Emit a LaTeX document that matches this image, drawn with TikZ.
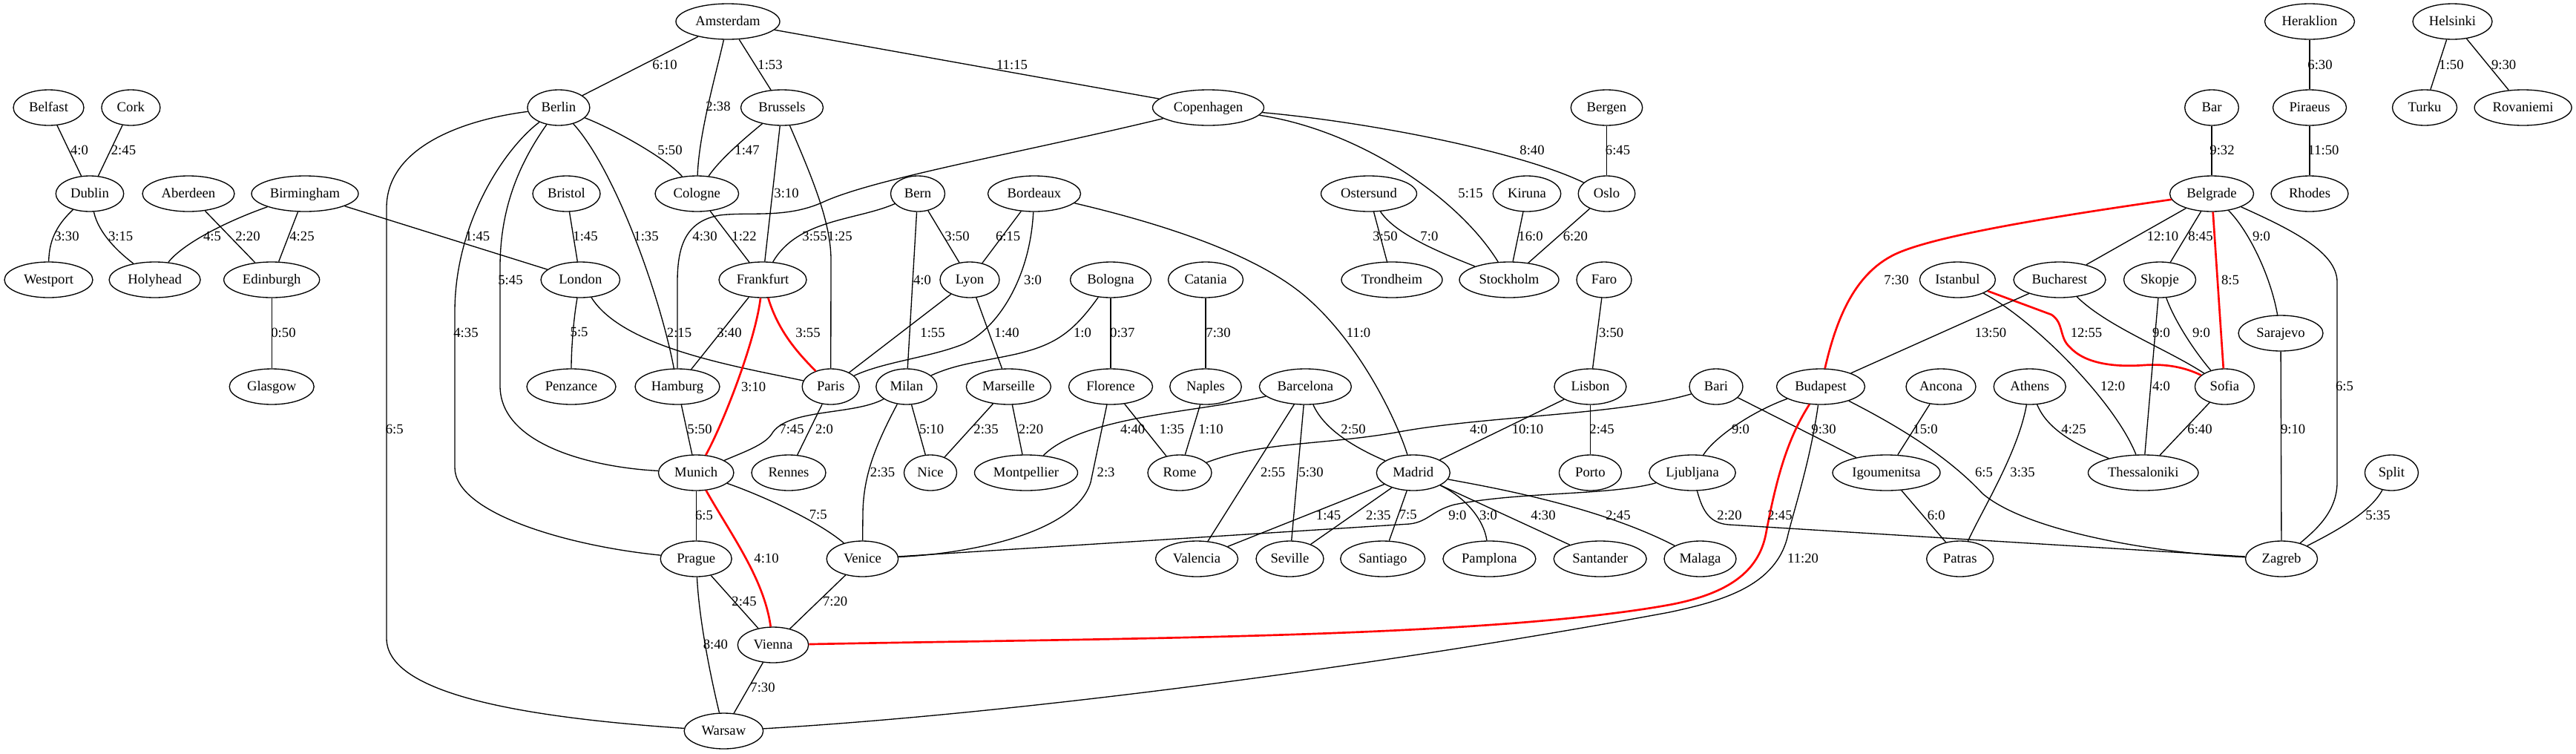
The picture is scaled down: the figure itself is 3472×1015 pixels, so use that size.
\documentclass[tikz,border=0pt]{standalone}
\usepackage{fontspec}
\setmainfont{Liberation Serif}
\usetikzlibrary{shapes.geometric}
\tikzset{
  city/.style={ellipse, draw, line width=1pt, inner sep=0pt, minimum height=36pt,
    text height=10pt, text depth=2.5pt, font=\fontsize{14pt}{16pt}\selectfont},
  wd/.style={minimum width={0.75pt*#1}},
  e/.style={draw, line width=1pt},
  hl/.style={draw=red, line width=2pt},
  lbl/.style={inner sep=0pt, font=\fontsize{14pt}{16pt}\selectfont}
}
\begin{document}
\begin{tikzpicture}[x=0.75pt,y=-0.75pt]
\useasboundingbox (0,0) rectangle (3472,1015);
% ---- nodes ----
\node[city,wd=140] (amsterdam) at (981,29) {Amsterdam};
\node[city,wd=121] (heraklion) at (3113,29) {Heraklion};
\node[city,wd=107] (helsinki) at (3305.5,29) {Helsinki};
\node[city,wd=95] (belfast) at (65.5,145) {Belfast};
\node[city,wd=79] (cork) at (176.4,145) {Cork};
\node[city,wd=84] (berlin) at (752.9,145) {Berlin};
\node[city,wd=111] (brussels) at (1054,145) {Brussels};
\node[city,wd=150] (copenhagen) at (1628.5,145) {Copenhagen};
\node[city,wd=96.5] (bergen) at (2165.5,145) {Bergen};
\node[city,wd=72.6] (bar) at (2981,145) {Bar};
\node[city,wd=99] (piraeus) at (3113,145) {Piraeus};
\node[city,wd=87] (turku) at (3268,145) {Turku};
\node[city,wd=131] (rovaniemi) at (3400.6,145) {Rovaniemi};
\node[city,wd=91.5] (dublin) at (121,261) {Dublin};
\node[city,wd=124] (aberdeen) at (254,261) {Aberdeen};
\node[city,wd=144] (birmingham) at (411,261) {Birmingham};
\node[city,wd=91] (bristol) at (763.5,261) {Bristol};
\node[city,wd=112.6] (cologne) at (939.3,261) {Cologne};
\node[city,wd=73] (bern) at (1237,261) {Bern};
\node[city,wd=125] (bordeaux) at (1394,261) {Bordeaux};
\node[city,wd=129] (ostersund) at (1845,261) {Ostersund};
\node[city,wd=91.5] (kiruna) at (2058,261) {Kiruna};
\node[city,wd=76.6] (oslo) at (2165.5,261) {Oslo};
\node[city,wd=113] (belgrade) at (2981,261) {Belgrade};
\node[city,wd=104] (rhodes) at (3113,261) {Rhodes};
\node[city,wd=119] (westport) at (65.5,377) {Westport};
\node[city,wd=123] (holyhead) at (208.6,377) {Holyhead};
\node[city,wd=129] (edinburgh) at (366.2,377) {Edinburgh};
\node[city,wd=106.5] (london) at (782.3,377) {London};
\node[city,wd=118] (frankfurt) at (1028,377) {Frankfurt};
\node[city,wd=80] (lyon) at (1307,377) {Lyon};
\node[city,wd=109] (bologna) at (1497,377) {Bologna};
\node[city,wd=101] (catania) at (1625,377) {Catania};
\node[city,wd=136] (trondheim) at (1876,377) {Trondheim};
\node[city,wd=134] (stockholm) at (2034,377) {Stockholm};
\node[city,wd=74] (faro) at (2162,377) {Faro};
\node[city,wd=102] (istanbul) at (2638.4,377) {Istanbul};
\node[city,wd=124] (bucharest) at (2776,377) {Bucharest};
\node[city,wd=97] (skopje) at (2911,377) {Skopje};
\node[city,wd=114] (sarajevo) at (3074,449) {Sarajevo};
\node[city,wd=114] (glasgow) at (366.2,521) {Glasgow};
\node[city,wd=120] (penzance) at (770,521) {Penzance};
\node[city,wd=114] (hamburg) at (913,521) {Hamburg};
\node[city,wd=77] (paris) at (1119.7,521) {Paris};
\node[city,wd=82] (milan) at (1221.8,521) {Milan};
\node[city,wd=114] (marseille) at (1359.4,521) {Marseille};
\node[city,wd=113] (florence) at (1497,521) {Florence};
\node[city,wd=96.5] (naples) at (1625,521) {Naples};
\node[city,wd=124] (barcelona) at (1759.4,521) {Barcelona};
\node[city,wd=97] (lisbon) at (2143.4,521) {Lisbon};
\node[city,wd=72] (bari) at (2313,521) {Bari};
\node[city,wd=119] (budapest) at (2454,521) {Budapest};
\node[city,wd=94] (ancona) at (2616,521) {Ancona};
\node[city,wd=97] (athens) at (2735.7,521) {Athens};
\node[city,wd=80] (sofia) at (2998.4,521) {Sofia};
\node[city,wd=101.5] (munich) at (938.2,637) {Munich};
\node[city,wd=100] (rennes) at (1063,637) {Rennes};
\node[city,wd=71] (nice) at (1254,637) {Nice};
\node[city,wd=139] (montpellier) at (1383,637) {Montpellier};
\node[city,wd=86] (rome) at (1590,637) {Rome};
\node[city,wd=99] (madrid) at (1904.8,637) {Madrid};
\node[city,wd=84] (porto) at (2143.4,637) {Porto};
\node[city,wd=116.5] (ljubljana) at (2281,637) {Ljubljana};
\node[city,wd=145] (igoumenitsa) at (2542.5,637) {Igoumenitsa};
\node[city,wd=148.5] (thessaloniki) at (2888.7,637) {Thessaloniki};
\node[city,wd=72] (split) at (3223.4,637) {Split};
\node[city,wd=96] (prague) at (938.2,753) {Prague};
\node[city,wd=96.5] (venice) at (1162.4,753) {Venice};
\node[city,wd=111] (valencia) at (1613,753) {Valencia};
\node[city,wd=91] (seville) at (1738.5,753) {Seville};
\node[city,wd=114] (santiago) at (1863.7,753) {Santiago};
\node[city,wd=125] (pamplona) at (2007.4,753) {Pamplona};
\node[city,wd=125] (santander) at (2156.7,753) {Santander};
\node[city,wd=97] (malaga) at (2291.5,753) {Malaga};
\node[city,wd=90] (patras) at (2641.7,753) {Patras};
\node[city,wd=97] (zagreb) at (3075,753) {Zagreb};
\node[city,wd=95.4] (vienna) at (1042,869) {Vienna};
\node[city,wd=106.5] (warsaw) at (975.4,985) {Warsaw};
% ---- edges ----
\draw[e] (belfast) -- (dublin);
\draw[e] (cork) -- (dublin);
\draw[e] (dublin) .. controls (80,300) and (66,320) .. (westport);
\draw[e] (dublin) .. controls (133,315) and (160,340) .. (holyhead);
\draw[e] (birmingham) .. controls (300,300) and (245,330) .. (holyhead);
\draw[e] (aberdeen) -- (edinburgh);
\draw[e] (birmingham) -- (edinburgh);
\draw[e] (birmingham) -- (london);
\draw[e] (bristol) -- (london);
\draw[e] (edinburgh) -- (glasgow);
\draw[e] (london) .. controls (773,430) and (770,470) .. (penzance);
\draw[e] (london) .. controls (840,470) and (1000,495) .. (paris);
\draw[e] (berlin) .. controls (830,230) and (890,400) .. (hamburg);
\draw[e] (copenhagen) .. controls (1380,205) and (1180,240) .. (1110,272) .. controls (1060,295) and (1010,285) .. (970,290) .. controls (925,298) and (913,330) .. (913,380) -- (hamburg);
\draw[e] (amsterdam) -- (berlin);
\draw[e] (amsterdam) .. controls (965,100) and (942,180) .. (cologne);
\draw[e] (amsterdam) -- (brussels);
\draw[e] (amsterdam) -- (copenhagen);
\draw[e] (berlin) .. controls (830,175) and (900,215) .. (cologne);
\draw[e] (brussels) .. controls (1005,185) and (970,215) .. (cologne);
\draw[e] (cologne) -- (frankfurt);
\draw[e] (brussels) -- (frankfurt);
\draw[e] (brussels) .. controls (1095,240) and (1120,300) .. (1120,350) -- (paris);
\draw[e] (bern) .. controls (1155,297) and (1075,295) .. (frankfurt);
\draw[e] (bern) -- (lyon);
\draw[e] (bern) -- (milan);
\draw[e] (bordeaux) -- (lyon);
\draw[e] (bordeaux) .. controls (1388,380) and (1340,448) .. (1295,465) .. controls (1250,482) and (1190,488) .. (paris);
\draw[e] (bordeaux) .. controls (1560,300) and (1690,340) .. (1760,400) .. controls (1830,460) and (1880,560) .. (madrid);
\draw[e] (copenhagen) .. controls (1850,165) and (2050,205) .. (oslo);
\draw[e] (copenhagen) .. controls (1830,175) and (1965,265) .. (stockholm);
\draw[e] (bergen) -- (oslo);
\draw[e] (ostersund) -- (trondheim);
\draw[e] (ostersund) .. controls (1880,315) and (1940,340) .. (stockholm);
\draw[e] (kiruna) -- (stockholm);
\draw[e] (oslo) -- (stockholm);
\draw[e] (heraklion) -- (piraeus);
\draw[e] (piraeus) -- (rhodes);
\draw[e] (helsinki) -- (turku);
\draw[e] (helsinki) -- (rovaniemi);
\draw[e] (bar) -- (belgrade);
\draw[hl] (belgrade) .. controls (2780,290) and (2620,315) .. (2560,340) .. controls (2500,365) and (2475,430) .. (budapest);
\draw[e] (belgrade) -- (bucharest);
\draw[e] (belgrade) -- (skopje);
\draw[hl] (belgrade) -- (sofia);
\draw[e] (belgrade) .. controls (3030,310) and (3060,370) .. (sarajevo);
\draw[e] (belgrade) .. controls (3090,310) and (3150,340) .. (3150,380) -- (3150,650) .. controls (3150,690) and (3120,715) .. (zagreb);
\draw[hl] (istanbul) -- (2765,424) .. controls (2782,435) and (2775,455) .. (2790,468) .. controls (2810,490) and (2850,495) .. (2890,492) .. controls (2920,490) and (2945,495) .. (sofia);
\draw[e] (istanbul) .. controls (2740,430) and (2850,540) .. (thessaloniki);
\draw[e] (bucharest) -- (budapest);
\draw[e] (bucharest) .. controls (2840,440) and (2920,470) .. (sofia);
\draw[e] (skopje) -- (thessaloniki);
\draw[e] (skopje) .. controls (2930,430) and (2955,470) .. (sofia);
\draw[e] (sofia) -- (thessaloniki);
\draw[e] (athens) .. controls (2760,580) and (2800,600) .. (thessaloniki);
\draw[e] (athens) .. controls (2720,610) and (2670,690) .. (patras);
\draw[e] (sarajevo) -- (zagreb);
\draw[e] (split) .. controls (3195,690) and (3150,715) .. (zagreb);
\draw[e] (ancona) -- (igoumenitsa);
\draw[e] (budapest) .. controls (2570,580) and (2630,620) .. (2672,665) .. controls (2730,715) and (2900,745) .. (zagreb);
\draw[e] (bari) .. controls (2180,560) and (2000,560) .. (1880,583) .. controls (1780,600) and (1700,595) .. (rome);
\draw[e] (bari) -- (igoumenitsa);
\draw[e] (lisbon) -- (madrid);
\draw[e] (lisbon) -- (porto);
\draw[e] (faro) -- (lisbon);
\draw[e] (barcelona) .. controls (1785,580) and (1830,605) .. (madrid);
\draw[e] (barcelona) .. controls (1620,555) and (1460,560) .. (montpellier);
\draw[e] (barcelona) -- (valencia);
\draw[e] (barcelona) -- (seville);
\draw[e] (budapest) .. controls (2360,555) and (2310,590) .. (ljubljana);
\draw[hl] (budapest) .. controls (2410,590) and (2395,640) .. (2380,720) .. controls (2370,770) and (2330,800) .. (2250,815) .. controls (2000,860) and (1500,860) .. (vienna);
\draw[e] (budapest) .. controls (2440,620) and (2420,680) .. (2410,720) .. controls (2395,790) and (2320,810) .. (2250,825) .. controls (1900,890) and (1400,960) .. (warsaw);
\draw[e] (ljubljana) .. controls (2295,690) and (2305,705) .. (2330,707) -- (zagreb);
\draw[e] (ljubljana) .. controls (2170,668) and (2050,662) .. (1960,680) .. controls (1930,688) and (1925,703) .. (1900,706) -- (venice);
\draw[e] (madrid) -- (valencia);
\draw[e] (madrid) -- (seville);
\draw[e] (madrid) -- (santiago);
\draw[e] (madrid) .. controls (1975,670) and (2000,700) .. (pamplona);
\draw[e] (madrid) -- (santander);
\draw[e] (madrid) .. controls (2000,655) and (2150,680) .. (malaga);
\draw[e] (florence) -- (1470,650) .. controls (1450,715) and (1320,745) .. (venice);
\draw[e] (florence) -- (rome);
\draw[e] (naples) -- (rome);
\draw[e] (catania) -- (naples);
\draw[e] (bologna) -- (florence);
\draw[e] (bologna) .. controls (1445,450) and (1420,465) .. (1370,477) .. controls (1320,488) and (1290,490) .. (milan);
\draw[e] (lyon) -- (paris);
\draw[e] (lyon) -- (marseille);
\draw[hl] (frankfurt) .. controls (1018,460) and (975,570) .. (munich);
\draw[hl] (frankfurt) .. controls (1050,450) and (1080,480) .. (paris);
\draw[e] (frankfurt) -- (hamburg);
\draw[e] (hamburg) -- (munich);
\draw[e] (milan) .. controls (1150,560) and (1060,550) .. (1040,585) .. controls (1030,600) and (1000,610) .. (munich);
\draw[e] (paris) -- (rennes);
\draw[e] (milan) -- (nice);
\draw[e] (marseille) -- (nice);
\draw[e] (marseille) -- (montpellier);
\draw[e] (milan) .. controls (1180,600) and (1164,640) .. (1163,690) -- (venice);
\draw[e] (munich) -- (prague);
\draw[e] (munich) .. controls (1020,665) and (1100,700) .. (venice);
\draw[hl] (munich) .. controls (985,720) and (1030,780) .. (vienna);
\draw[e] (prague) -- (vienna);
\draw[e] (prague) .. controls (942,830) and (955,900) .. (warsaw);
\draw[e] (venice) -- (vienna);
\draw[e] (vienna) -- (warsaw);
\draw[e] (igoumenitsa) -- (patras);
\draw[e] (berlin) .. controls (620,162) and (521,200) .. (521,280) -- (521,860) .. controls (521,930) and (680,965) .. (warsaw);
\draw[e] (berlin) .. controls (680,200) and (613,300) .. (613,420) -- (613,630) .. controls (613,690) and (760,735) .. (prague);
\draw[e] (berlin) .. controls (700,220) and (674,280) .. (674,360) -- (674,520) .. controls (674,600) and (800,630) .. (munich);
% ---- labels ----
\node[lbl] (l1) at (107,202) {4:0};
\node[lbl] (l2) at (166.5,202) {2:45};
\node[lbl] (l3) at (90,318) {3:30};
\node[lbl] (l4) at (162.6,318) {3:15};
\node[lbl] (l5) at (286,318) {4:5};
\node[lbl] (l6) at (334,318) {2:20};
\node[lbl] (l7) at (407,318) {4:25};
\node[lbl] (l8) at (643.6,318) {1:45};
\node[lbl] (l9) at (789,318) {1:45};
\node[lbl] (l10) at (382,448) {0:50};
\node[lbl] (l11) at (780.6,448) {5:5};
\node[lbl] (l12) at (915.5,448) {2:15};
\node[lbl] (l13) at (871,318) {1:35};
\node[lbl] (l14) at (950,318) {4:30};
\node[lbl] (l15) at (896,87) {6:10};
\node[lbl] (l16) at (968,143) {2:38};
\node[lbl] (l17) at (1038,87) {1:53};
\node[lbl] (l18) at (1364,87) {11:15};
\node[lbl] (l19) at (903,202) {5:50};
\node[lbl] (l20) at (1007,202) {1:47};
\node[lbl] (l21) at (1003,318) {1:22};
\node[lbl] (l22) at (1060,260) {3:10};
\node[lbl] (l23) at (1132,318) {1:25};
\node[lbl] (l24) at (1098,318) {3:55};
\node[lbl] (l25) at (1290,318) {3:50};
\node[lbl] (l26) at (1243,377) {4:0};
\node[lbl] (l27) at (1358.6,318) {6:15};
\node[lbl] (l28) at (1392,377) {3:0};
\node[lbl] (l29) at (1831,448) {11:0};
\node[lbl] (l30) at (2065,202) {8:40};
\node[lbl] (l31) at (1982,260) {5:15};
\node[lbl] (l32) at (2180.5,202) {6:45};
\node[lbl] (l33) at (1867,318) {3:50};
\node[lbl] (l34) at (1926.4,318) {7:0};
\node[lbl] (l35) at (2063,318) {16:0};
\node[lbl] (l36) at (2123.4,318) {6:20};
\node[lbl] (l37) at (3127,87) {6:30};
\node[lbl] (l38) at (3131.6,202) {11:50};
\node[lbl] (l39) at (3304,87) {1:50};
\node[lbl] (l40) at (3374.6,87) {9:30};
\node[lbl] (l41) at (2995,202) {9:32};
\node[lbl] (l42) at (2556,377) {7:30};
\node[lbl] (l43) at (2915,318) {12:10};
\node[lbl] (l44) at (2966,318) {8:45};
\node[lbl] (l45) at (3006,377) {8:5};
\node[lbl] (l46) at (3048,318) {9:0};
\node[lbl] (l47) at (3160,520) {6:5};
\node[lbl] (l48) at (2812,448) {12:55};
\node[lbl] (l49) at (2847.6,520) {12:0};
\node[lbl] (l50) at (2683,448) {13:50};
\node[lbl] (l51) at (2913,448) {9:0};
\node[lbl] (l52) at (2913,520) {4:0};
\node[lbl] (l53) at (2967,448) {9:0};
\node[lbl] (l54) at (2965,578) {6:40};
\node[lbl] (l55) at (2795,578) {4:25};
\node[lbl] (l56) at (2726,636) {3:35};
\node[lbl] (l57) at (3090.6,578) {9:10};
\node[lbl] (l58) at (3205,694) {5:35};
\node[lbl] (l59) at (2595,578) {15:0};
\node[lbl] (l60) at (2674,636) {6:5};
\node[lbl] (l61) at (1993,578) {4:0};
\node[lbl] (l62) at (2458,578) {9:30};
\node[lbl] (l63) at (2059,578) {10:10};
\node[lbl] (l64) at (2159,578) {2:45};
\node[lbl] (l65) at (2171.7,448) {3:50};
\node[lbl] (l66) at (1824,578) {2:50};
\node[lbl] (l67) at (1526.7,578) {4:40};
\node[lbl] (l68) at (1715.6,636) {2:55};
\node[lbl] (l69) at (1767,636) {5:30};
\node[lbl] (l70) at (2346,578) {9:0};
\node[lbl] (l71) at (2399,694) {2:45};
\node[lbl] (l72) at (2430,752) {11:20};
\node[lbl] (l73) at (2331,694) {2:20};
\node[lbl] (l74) at (1964.4,694) {9:0};
\node[lbl] (l75) at (1790.5,694) {1:45};
\node[lbl] (l76) at (1857.8,694) {2:35};
\node[lbl] (l77) at (1897.8,694) {7:5};
\node[lbl] (l78) at (2006,694) {3:0};
\node[lbl] (l79) at (2080,694) {4:30};
\node[lbl] (l80) at (2181,694) {2:45};
\node[lbl] (l81) at (1490.6,636) {2:3};
\node[lbl] (l82) at (1579.5,578) {1:35};
\node[lbl] (l83) at (1632,578) {1:10};
\node[lbl] (l84) at (1642,448) {7:30};
\node[lbl] (l85) at (1512.8,448) {0:37};
\node[lbl] (l86) at (1459,448) {1:0};
\node[lbl] (l87) at (1257,448) {1:55};
\node[lbl] (l88) at (1357,448) {1:40};
\node[lbl] (l89) at (1015.6,521) {3:10};
\node[lbl] (l90) at (1089,448) {3:55};
\node[lbl] (l91) at (943,578) {5:50};
\node[lbl] (l92) at (1067,578) {7:45};
\node[lbl] (l93) at (1111,578) {2:0};
\node[lbl] (l94) at (1255.6,578) {5:10};
\node[lbl] (l95) at (1329,578) {2:35};
\node[lbl] (l96) at (1389.5,578) {2:20};
\node[lbl] (l97) at (1189.5,636) {2:35};
\node[lbl] (l98) at (688,377) {5:45};
\node[lbl] (l99) at (628,448) {4:35};
\node[lbl] (l100) at (531.7,578) {6:5};
\node[lbl] (l101) at (949,694) {6:5};
\node[lbl] (l102) at (1102.8,694) {7:5};
\node[lbl] (l103) at (1033,752) {4:10};
\node[lbl] (l104) at (1003,810.7) {2:45};
\node[lbl] (l105) at (964.4,868) {8:40};
\node[lbl] (l106) at (1125.6,810.7) {7:20};
\node[lbl] (l107) at (1028,926) {7:30};
\node[lbl] (l108) at (2609.7,694) {6:0};
\node[lbl] (l109) at (983,448) {3:40};
\end{tikzpicture}
\end{document}
